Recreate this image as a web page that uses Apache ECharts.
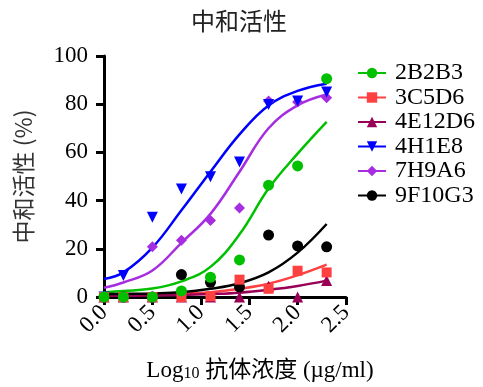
<!DOCTYPE html>
<html>
<head>
<meta charset="utf-8">
<script src="https://cdn.jsdelivr.net/npm/echarts@6/dist/echarts.min.js"></script>
<style>
  html, body { margin: 0; padding: 0; background: #fff; }
  #chart { width: 483px; height: 387px; }
</style>
</head>
<body>
<div id="chart"></div>
<script>
// log10 浓度
const doses = [0, 0.2, 0.5, 0.8, 1.1, 1.4, 1.7, 2.0, 2.3];
const names = ["2B2B3", "3C5D6", "4E12D6", "4H1E8", "7H9A6", "9F10G3"];
const colors = ["#00c000", "#ff4040", "#990055", "#0000ff", "#a62ee0", "#000000"];
const symbols = ["circle", "rect", "triangle", "triangle", "diamond", "circle"];
const rotates = [0, 0, 0, 180, 0, 0];

// 实测点 (%)
const pts2B2B3 = [0, 0, 0, 2.5, 8.2, 15.4, 46.4, 54.4, 90.6];
const pts3C5D6 = [0, 0, 0, 0, 0.3, 7.2, 3.4, 10.9, 10.2];
const pts4E12D6 = [0, 0, 0, 0, 0, 0, 4.5, 0, 6.8];
const pts4H1E8 = [0, 8.9, 33.1, 44.8, 49.9, 56, 79.9, 81.3, 85.1];
const pts7H9A6 = [0, 0, 20.8, 23.5, 31.7, 36.9, 81.3, 80.9, 82.7];
const pts9F10G3 = [0, 0, 0, 9.3, 6.1, 4.1, 25.7, 21.2, 20.8];

// 拟合曲线
const fit2B2B3 = [2, 2.5, 3.5, 6.5, 12.5, 26, 45, 59.5, 72.7];
const fit3C5D6 = [1, 1.1, 1.2, 1.4, 2, 3.4, 5.5, 9, 13.4];
const fit4E12D6 = [0.5, 0.5, 0.6, 0.8, 1.2, 1.8, 3, 4.6, 6.8];
const fit4H1E8 = [7.5, 10.2, 20.5, 36, 52, 67.5, 79.5, 85.5, 88.5];
const fit7H9A6 = [3.8, 6, 11, 22.5, 34.5, 52, 70, 79.5, 84];
const fit9F10G3 = [1.2, 1.3, 1.5, 2, 3.4, 5.7, 10.2, 18.4, 30.3];

const yTicks = [0, 20, 40, 60, 80, 100];

const ptsAll = [pts2B2B3, pts3C5D6, pts4E12D6, pts4H1E8, pts7H9A6, pts9F10G3];
const fitAll = [fit2B2B3, fit3C5D6, fit4E12D6, fit4H1E8, fit7H9A6, fit9F10G3];

const serif = "'Liberation Serif', 'Noto Sans CJK SC', serif";
const pair = (arr) => doses.map((d, i) => [d, arr[i]]);

const lineSeries = names.map((n, i) => ({
  name: n,
  type: "line",
  data: pair(fitAll[i]),
  smooth: 0.4,
  showSymbol: false,
  symbol: symbols[i],
  symbolRotate: rotates[i],
  color: colors[i],
  lineStyle: { width: 2.5, color: colors[i] },
  z: 2,
}));

// 画的顺序反过来，绿色在最上面
const scatterSeries = names
  .map((n, i) => ({
    name: n,
    type: "scatter",
    data: pair(ptsAll[i]),
    symbol: symbols[i],
    symbolRotate: rotates[i],
    symbolSize: symbols[i] === "rect" ? 10 : 11,
    itemStyle: { color: colors[i], opacity: 1 },
    z: 3,
  }))
  .reverse();

const chart = echarts.init(document.getElementById("chart"));
chart.setOption({
  animation: false,
  title: {
    text: "中和活性",
    left: 186,
    top: 4,
    textStyle: {
      fontFamily: "'Noto Sans CJK SC'",
      fontSize: 24,
      fontWeight: "normal",
      color: "#222",
    },
  },
  grid: { left: 104, right: 137, top: 56, bottom: 87 },
  legend: {
    orient: "vertical",
    left: 352,
    top: 56,
    itemWidth: 28,
    itemHeight: 13,
    itemGap: 0.5,
    data: names,
    textStyle: {
      fontFamily: serif,
      fontSize: 24,
      color: "#000",
      padding: [0, 0, 0, 4],
    },
  },
  xAxis: {
    type: "value",
    min: 0,
    max: 2.5,
    interval: 0.5,
    splitLine: { show: false },
    axisLine: { lineStyle: { color: "#000", width: 3 } },
    axisTick: { length: 8, lineStyle: { color: "#000", width: 3 } },
    axisLabel: {
      rotate: 45,
      margin: 12,
      color: "#000",
      fontFamily: serif,
      fontSize: 23,
      formatter: (v) => v.toFixed(1),
    },
    name: "{a|Log}{s|10}{a| 抗体浓度 (µg/ml)}",
    nameLocation: "middle",
    nameGap: 62,
    nameTextStyle: {
      padding: [0, 0, 0, 70],
      rich: {
        a: { fontFamily: serif, fontSize: 23, color: "#000" },
        s: { fontFamily: serif, fontSize: 16, color: "#000", verticalAlign: "bottom", lineHeight: 16, padding: [10, 0, 0, 0] },
      },
    },
  },
  yAxis: {
    type: "value",
    min: yTicks[0],
    max: yTicks[yTicks.length - 1],
    interval: 20,
    splitLine: { show: false },
    axisLine: { show: true, lineStyle: { color: "#000", width: 3 } },
    axisTick: { show: true, length: 8, lineStyle: { color: "#000", width: 3 } },
    axisLabel: { margin: 16, color: "#000", fontFamily: serif, fontSize: 23 },
    name: "中和活性 (%)",
    nameLocation: "middle",
    nameGap: 69,
    nameTextStyle: { fontFamily: "'Noto Sans CJK SC', 'Liberation Serif'", fontSize: 23, color: "#333" },
  },
  series: [...lineSeries, ...scatterSeries],
});
</script>
</body>
</html>
